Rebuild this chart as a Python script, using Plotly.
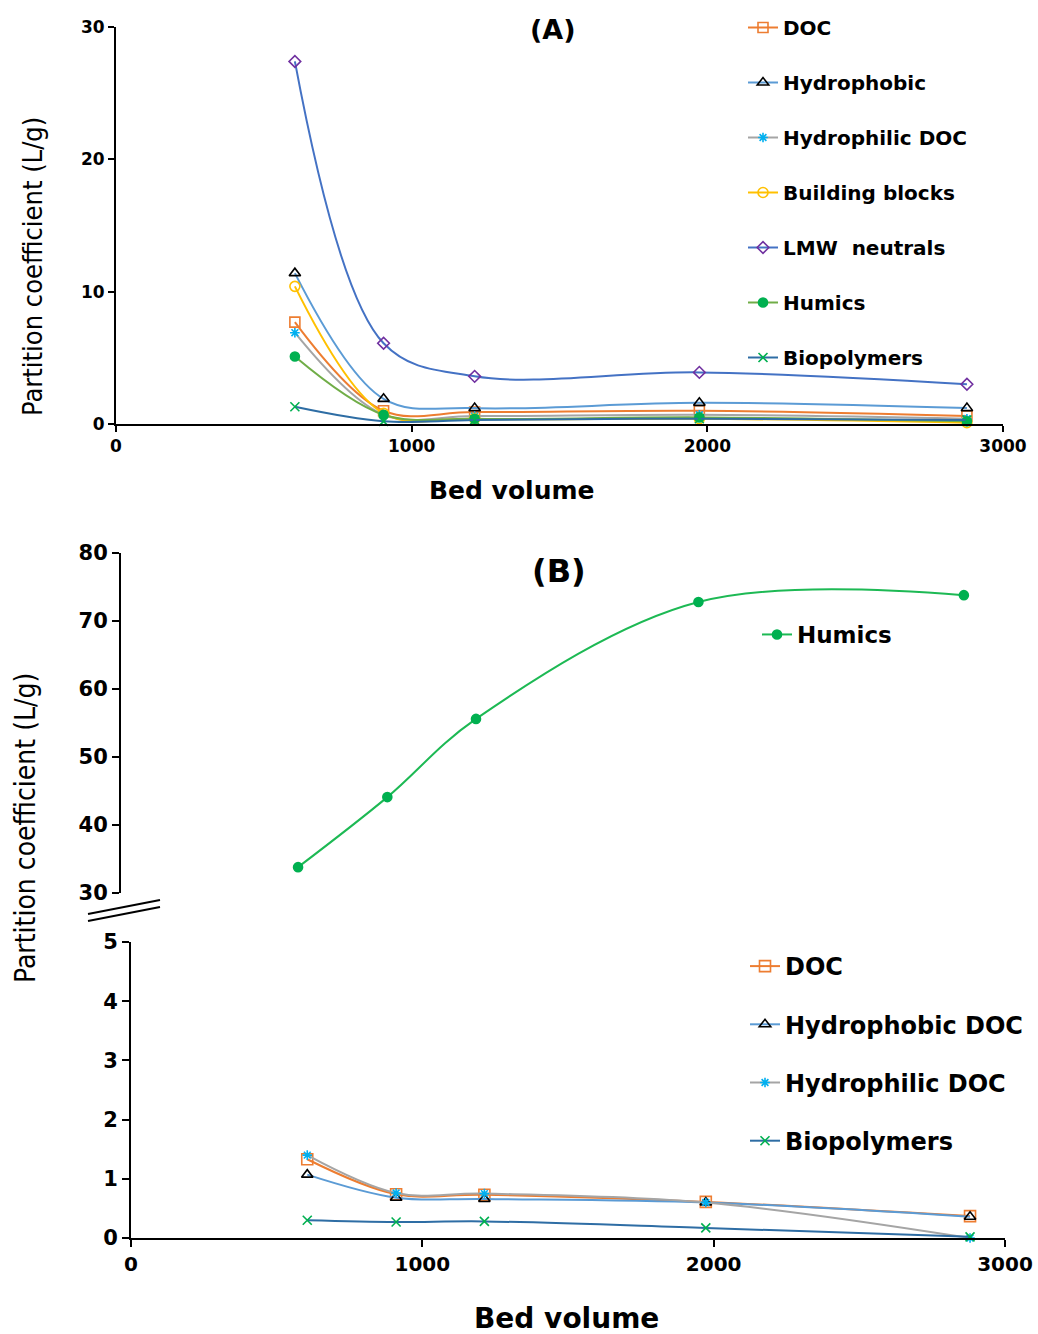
import plotly.graph_objects as go

# body margin is removed in the page, so figure covers the whole window
OFF = 0
W, H = 1038 - OFF, 1334 - OFF

# ---------- data ----------
bv_a = [605, 905, 1213, 1973, 2878]
a_doc = [7.7, 1.0, 0.9, 1.0, 0.6]
a_hydrophobic = [11.4, 1.9, 1.2, 1.6, 1.2]
a_hydrophilic = [6.9, 0.7, 0.6, 0.7, 0.4]
a_building = [10.4, 0.8, 0.4, 0.4, 0.1]
a_lmw = [27.4, 6.1, 3.6, 3.9, 3.0]
a_humics = [5.1, 0.7, 0.4, 0.5, 0.2]
a_biopoly = [1.3, 0.2, 0.3, 0.4, 0.3]

bv_b = [605, 910, 1213, 1973, 2880]
b_humics = [33.8, 44.1, 55.6, 72.8, 73.8]
b_doc = [1.33, 0.74, 0.73, 0.61, 0.37]
b_hydrophobic = [1.07, 0.68, 0.66, 0.60, 0.36]
b_hydrophilic = [1.40, 0.76, 0.75, 0.60, 0.0]
b_biopoly = [0.30, 0.27, 0.28, 0.17, 0.02]

x_ticks = [0, 1000, 2000, 3000]
ya_ticks = [0, 10, 20, 30]
yb_up_ticks = [30, 40, 50, 60, 70, 80]
yb_lo_ticks = [0, 1, 2, 3, 4, 5]

# ---------- styles ----------
ORANGE = "#ED7D31"
LBLUE = "#5B9BD5"
GRAY = "#A5A5A5"
CYAN = "#00B0F0"
GOLD = "#FFC000"
PURPLE = "#7030A0"
BLUE = "#4472C4"
GREEN = "#00B050"
LGREEN = "#70AD47"
DBLUE = "#2E6DA4"

FONT = "DejaVu Sans"
NARROW = "DejaVu Sans Condensed, DejaVu Sans, sans-serif"

def px(v):
    return (v - OFF) / W

def py(v):
    return 1 - (v - OFF) / H

fig = go.Figure()

def add(x, y, name, lc, sym, mc, msize, xa, ya, legend, group):
    marker = dict(symbol=sym, size=msize, color=mc, line=dict(color=mc, width=1.6))
    fig.add_trace(go.Scatter(
        x=x, y=y, name=name, mode="lines+markers",
        line=dict(color=lc, width=2, shape="spline", smoothing=1.0),
        marker=marker, xaxis=xa, yaxis=ya, legend=legend, legendgroup=group,
        cliponaxis=False))

# Panel A
add(bv_a, a_doc, "DOC", ORANGE, "square-open", ORANGE, 10, "x", "y", "legend", "a1")
add(bv_a, a_hydrophobic, "Hydrophobic", LBLUE, "triangle-up-open", "black", 10, "x", "y", "legend", "a2")
add(bv_a, a_hydrophilic, "Hydrophilic DOC", GRAY, "asterisk-open", CYAN, 8, "x", "y", "legend", "a3")
add(bv_a, a_building, "Building blocks", GOLD, "circle-open", GOLD, 10, "x", "y", "legend", "a4")
add(bv_a, a_lmw, "LMW  neutrals", BLUE, "diamond-open", PURPLE, 9, "x", "y", "legend", "a5")
add(bv_a, a_humics, "Humics", LGREEN, "circle", GREEN, 9, "x", "y", "legend", "a6")
add(bv_a, a_biopoly, "Biopolymers", DBLUE, "x-thin-open", GREEN, 9, "x", "y", "legend", "a7")

# Panel B upper
add(bv_b, b_humics, "Humics", "#1DB954", "circle", GREEN, 9, "x2", "y2", "legend2", "b0")

# Panel B lower
add(bv_b, b_doc, "DOC", ORANGE, "square-open", ORANGE, 11, "x3", "y3", "legend3", "b1")
add(bv_b, b_hydrophobic, "Hydrophobic DOC", LBLUE, "triangle-up-open", "black", 10, "x3", "y3", "legend3", "b2")
add(bv_b, b_hydrophilic, "Hydrophilic DOC", GRAY, "asterisk-open", CYAN, 8, "x3", "y3", "legend3", "b3")
add(bv_b, b_biopoly, "Biopolymers", DBLUE, "x-thin-open", GREEN, 9, "x3", "y3", "legend3", "b4")

axis_common = dict(showgrid=False, zeroline=False, showline=True, linecolor="black",
                   linewidth=2, ticks="outside", tickcolor="black", tickwidth=2,
                   automargin=False)

fig.update_layout(
    width=W, height=H, margin=dict(l=0, r=0, t=0, b=0, autoexpand=False),
    paper_bgcolor="white", plot_bgcolor="white",
    xaxis=dict(domain=[px(116), px(1003)], range=[0, 3000], tickvals=x_ticks, anchor="y",
               tickfont=dict(family=FONT, size=17, color="black", weight="bold"),
               ticklen=6, **axis_common),
    yaxis=dict(domain=[py(424), py(27)], range=[0, 30], tickvals=ya_ticks, anchor="x",
               tickfont=dict(family=FONT, size=17, color="black", weight="bold"),
               ticklen=6, **axis_common),
    xaxis2=dict(domain=[px(121), px(999)], range=[0, 3000], visible=False, anchor="y2"),
    yaxis2=dict(domain=[py(893), py(553)], range=[30, 80], tickvals=yb_up_ticks, anchor="x2",
                tickfont=dict(family=FONT, size=21, color="black", weight="bold"),
                ticklen=7, **axis_common),
    xaxis3=dict(domain=[px(131), px(1005)], range=[0, 3000], tickvals=x_ticks, anchor="y3",
                tickfont=dict(family=FONT, size=20, color="black", weight="bold"),
                ticklen=7, **axis_common),
    yaxis3=dict(domain=[py(1238), py(942)], range=[0, 5], tickvals=yb_lo_ticks, anchor="x3",
                tickfont=dict(family=FONT, size=21, color="black", weight="bold"),
                ticklen=7, **axis_common),
    legend=dict(x=px(743), y=py(8), xanchor="left", yanchor="top", traceorder="grouped",
                tracegroupgap=26, bgcolor="rgba(0,0,0,0)",
                font=dict(family=FONT, size=20, color="black", weight="bold")),
    legend2=dict(x=px(757), y=py(613), xanchor="left", yanchor="top",
                 bgcolor="rgba(0,0,0,0)",
                 font=dict(family=FONT, size=23, color="black", weight="bold")),
    legend3=dict(x=px(745), y=py(944), xanchor="left", yanchor="top", traceorder="grouped",
                 tracegroupgap=24, bgcolor="rgba(0,0,0,0)",
                 font=dict(family=FONT, size=24, color="black", weight="bold")),
    showlegend=True,
    hovermode=False,
)

ann = [
    dict(text="(A)", x=px(553), y=py(30), font=dict(family=FONT, size=27, weight="bold")),
    dict(text="(B)", x=px(559), y=py(571), font=dict(family=FONT, size=32, weight="bold")),
    dict(text="Bed volume", x=px(511), y=py(490), font=dict(family=FONT, size=25, weight="bold")),
    dict(text="Bed volume", x=px(566), y=py(1318), font=dict(family=FONT, size=28, weight="bold")),
    dict(text="Partition coefficient (L/g)", x=px(33), y=py(267), textangle=-90,
         font=dict(family=NARROW, size=27)),
    dict(text="Partition coefficient (L/g)", x=px(25), y=py(828), textangle=-90,
         font=dict(family=NARROW, size=28)),
]
for a in ann:
    a.update(xref="paper", yref="paper", showarrow=False, xanchor="center", yanchor="middle")
    a["font"].setdefault("color", "black")
fig.update_layout(annotations=ann)

# axis-break marks
for off in (0, 7):
    fig.add_shape(type="line", xref="paper", yref="paper",
                  x0=px(88), y0=py(914 + off), x1=px(160), y1=py(900 + off),
                  line=dict(color="black", width=2))

fig.write_html("out.html",
               config={"displayModeBar": False},
               post_script="document.body.style.margin='0';document.body.style.overflow='hidden';")
